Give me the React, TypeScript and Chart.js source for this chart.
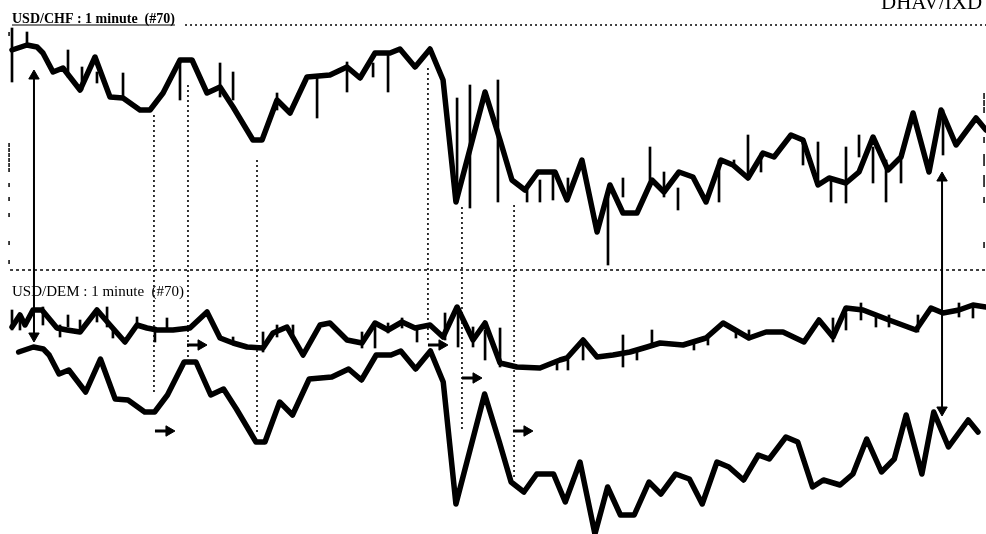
import React, { useEffect, useRef } from "react";
import { Chart, registerables } from "chart.js";

Chart.register(...registerables);

// x: minutes into the 70-minute window; y: price level in points
const CHF_TIME = [0,1.07,1.79,2.21,2.93,3.64,4.86,5.93,7.0,7.93,9.14,9.86,10.79,12.0,12.86,13.93,14.86,15.79,17.21,17.86,18.93,19.86,21.07,22.71,23.93,24.86,25.93,27.0,27.71,28.79,29.86,30.79,31.71,33.79,34.86,35.71,36.64,37.57,38.79,39.64,40.71,41.79,42.71,43.64,44.64,45.71,46.57,47.64,48.64,49.57,50.64,51.5,52.57,53.64,54.43,55.64,56.5,57.57,58.36,59.57,60.5,61.5,62.57,63.5,64.36,65.5,66.36,67.43,68.86,69.57];
const CHF_LEVEL = [484,489,487,481,462,466,444,477,437,436,424,424,441,474,474,441,447,427,394,394,434,421,457,459,467,456,481,481,485,467,485,454,332,442,394,354,344,362,362,334,374,302,349,321,321,354,342,362,357,332,374,369,356,381,377,399,394,349,356,351,362,397,364,377,421,362,424,389,416,404];

const CHF_BAR_TIME = [0,1.07,4.0,5.0,6.07,7.93,12.0,14.86,15.79,18.93,21.79,23.93,25.79,26.86,31.79,32.71,34.71,36.79,37.71,38.64,39.71,42.57,43.64,45.57,46.57,47.57,50.5,51.57,52.57,53.5,56.5,57.57,58.5,59.57,60.5,61.5,62.43,63.5,66.5];
const CHF_BAR_HIGH = [506,502,484,467,462,461,471,471,462,441,457,472,471,481,436,449,454,346,354,362,356,337,356,387,362,346,374,374,399,381,394,392,356,387,399,387,374,377,424];
const CHF_BAR_LOW = [452,489,457,444,451,434,434,437,434,424,416,442,457,442,332,326,332,332,332,334,334,269,337,354,337,324,332,367,357,362,369,349,332,331,377,351,332,351,379];

const DEM_TIME = [0,0.57,0.93,1.5,2.14,3.21,3.93,4.86,6.07,7.0,8.07,8.93,9.64,10.36,11.5,12.71,13.93,14.86,15.79,16.79,17.93,18.64,19.64,20.79,22.0,22.71,23.93,25.0,25.93,26.86,27.86,28.79,29.86,30.79,31.79,32.93,33.79,34.86,36.07,37.71,39.14,39.64,40.79,41.79,42.93,44.14,45.36,46.29,47.93,49.57,50.79,52.64,53.86,55.07,56.57,57.64,58.64,59.57,60.79,62.64,64.57,65.64,66.5,67.64,68.64,69.57];
const DEM_LEVEL = [207,219,209,224,224,206,204,202,224,209,192,209,206,204,204,206,222,196,191,187,186,201,207,179,209,211,194,191,211,204,212,206,209,197,227,194,211,171,167,166,174,176,194,177,179,182,187,191,189,196,211,196,202,202,192,214,197,226,224,214,204,226,221,224,229,227];

const DEM_BAR_TIME = [0,0.57,2.21,3.43,4.0,4.86,6.07,6.79,7.21,8.93,10.21,11.07,15.79,17.93,18.93,20.07,25.0,25.93,26.86,27.86,28.93,30.93,31.86,32.93,33.79,34.86,38.93,39.71,40.79,43.64,44.64,45.71,48.71,49.71,51.71,52.64,58.64,59.57,60.64,61.71,62.64,64.71,67.64,68.64];
const DEM_BAR_HIGH = [224,219,227,209,219,214,224,227,204,217,207,216,197,202,209,209,202,211,211,216,207,221,227,207,204,206,174,174,194,199,184,204,191,197,201,204,216,221,231,219,219,219,231,227];
const DEM_BAR_LOW = [204,204,209,197,207,202,212,207,196,209,192,204,191,182,197,199,186,186,201,206,192,194,187,187,174,167,164,164,174,167,174,189,184,189,196,194,192,204,214,207,207,202,217,216];

// CHF series re-plotted under the DEM panel: shifted down, and on a slightly wider time axis
const COPY_SHIFT = 302;
const COPY_X_MIN = -1.353;
const COPY_X_MAX = 70.15;

// dotted drop lines: time, from level, to level
const DROP_TIME = [10.14, 12.57, 17.5, 29.71, 32.14, 35.86];
const DROP_FROM = [419, 449, 374, 466, 327, 329];
const DROP_TO = [139, 177, 102, 194, 104, 54];

// double-headed vertical arrows
const SPAN_TIME = [1.57, 66.43];
const SPAN_TOP = [464, 362];
const SPAN_BOTTOM = [192, 118];

// small right-pointing lag arrows (tip positions)
const LAG_TIME = [13.93, 11.64, 31.14, 33.57, 37.21];
const LAG_LEVEL = [189, 103, 189, 156, 103];

// horizontal panel rules
const RULE_LEVEL = [509, 264];
const RULE_START = [12.36, -0.14];

// axis tick dots
const LEFT_TICK_LEVEL = [389, 384, 379, 374, 369, 364, 349, 335, 319, 291, 272, 500];
const RIGHT_TICK_LEVEL = [438, 431, 424, 394, 377, 371, 356, 350, 334, 289];

const X_MIN = -0.857;
const X_MAX = 69.57;
const Y_MIN = 0;
const Y_MAX = 534;

const TITLE_CHF = "USD/CHF : 1 minute  (#70)";
const TITLE_DEM = "USD/DEM : 1 minute  (#70)";
const HEADER = "DHAV/IXD";

export default function App() {
  const ref = useRef<HTMLCanvasElement | null>(null);

  useEffect(() => {
    document.body.style.margin = "0";
    const canvas = ref.current;
    if (!canvas) return;

    const chfPts = CHF_TIME.map((t, i) => ({ x: t, y: CHF_LEVEL[i] }));
    const demPts = DEM_TIME.map((t, i) => ({ x: t, y: DEM_LEVEL[i] }));
    const chfBars = CHF_BAR_TIME.map((t, i) => ({ x: t, y: [CHF_BAR_LOW[i], CHF_BAR_HIGH[i]] }));
    const demBars = DEM_BAR_TIME.map((t, i) => ({ x: t, y: [DEM_BAR_LOW[i], DEM_BAR_HIGH[i]] }));

    const drops: any[] = [];
    DROP_TIME.forEach((t, i) => {
      drops.push({ x: t, y: DROP_FROM[i] }, { x: t, y: DROP_TO[i] }, { x: t, y: null });
    });

    const head = 6;
    const pxPerMin = 14;
    const spanLines: any[] = [];
    const upHeads: any[] = [];
    const downHeads: any[] = [];
    SPAN_TIME.forEach((t, i) => {
      spanLines.push({ x: t, y: SPAN_TOP[i] - head }, { x: t, y: SPAN_BOTTOM[i] + head }, { x: t, y: null });
      upHeads.push({ x: t, y: SPAN_TOP[i] - head });
      downHeads.push({ x: t, y: SPAN_BOTTOM[i] + head });
    });

    const lagTails: any[] = [];
    const lagHeads: any[] = [];
    LAG_TIME.forEach((t, i) => {
      lagTails.push({ x: t - 20 / pxPerMin, y: LAG_LEVEL[i] }, { x: t - head / pxPerMin, y: LAG_LEVEL[i] }, { x: t, y: null });
      lagHeads.push({ x: t - head / pxPerMin, y: LAG_LEVEL[i] });
    });

    const rules = RULE_LEVEL.map((lv, i) => [
      { x: RULE_START[i], y: lv },
      { x: X_MAX, y: lv },
    ]);

    const leftTicks = LEFT_TICK_LEVEL.map((lv) => ({ x: -0.21, y: lv }));
    const rightTicks = RIGHT_TICK_LEVEL.map((lv) => ({ x: 69.43, y: lv }));

    const labelPlugin = {
      id: "panelLabels",
      afterDraw(chart: any) {
        const ctx = chart.ctx;
        const xs = chart.scales.x;
        const ys = chart.scales.y;
        ctx.save();
        ctx.fillStyle = "#000";
        ctx.strokeStyle = "#000";
        ctx.textBaseline = "alphabetic";
        const x0 = xs.getPixelForValue(0);
        const r0 = ys.getPixelForValue(RULE_LEVEL[0]);
        ctx.font = "bold 14px 'Liberation Serif'";
        ctx.fillText(TITLE_CHF, x0, r0 - 2);
        const w = ctx.measureText(TITLE_CHF).width;
        ctx.lineWidth = 1.2;
        ctx.beginPath();
        ctx.moveTo(x0, r0);
        ctx.lineTo(x0 + w, r0);
        ctx.stroke();
        const r1 = ys.getPixelForValue(RULE_LEVEL[1]);
        ctx.font = "15px 'Liberation Serif'";
        ctx.fillText(TITLE_DEM, x0, r1 + 26);
        ctx.font = "21px 'Liberation Serif'";
        ctx.textAlign = "left";
        ctx.fillText(HEADER, xs.getPixelForValue(X_MAX) - 105, ys.getPixelForValue(Y_MAX) + 9);
        ctx.restore();
      },
    };

    const lineBase = {
      type: "line" as const,
      borderColor: "#000",
      pointRadius: 0,
      pointHoverRadius: 0,
      tension: 0,
      clip: false as const,
      borderJoinStyle: "round" as const,
      borderCapStyle: "round" as const,
      spanGaps: false,
    };

    const chart = new Chart(canvas, {
      type: "line",
      data: {
        datasets: [
          { ...lineBase, label: "rule top", data: rules[0], borderWidth: 1.3, borderDash: [2, 3], borderCapStyle: "butt" },
          { ...lineBase, label: "rule mid", data: rules[1], borderWidth: 1.3, borderDash: [3, 3], borderCapStyle: "butt" },
          { ...lineBase, label: "drops", data: drops, borderWidth: 1.6, borderDash: [2, 3], borderCapStyle: "butt" },
          {
            type: "bar",
            label: "USD/CHF range",
            data: chfBars as any,
            backgroundColor: "#000",
            barThickness: 2,
            grouped: false,
            borderWidth: 0,
          },
          {
            type: "bar",
            label: "USD/DEM range",
            data: demBars as any,
            backgroundColor: "#000",
            barThickness: 2,
            grouped: false,
            borderWidth: 0,
          },
          { ...lineBase, label: "USD/CHF", data: chfPts, borderWidth: 5.5 },
          { ...lineBase, label: "USD/DEM", data: demPts, borderWidth: 5.5 },
          { ...lineBase, label: "USD/CHF shifted", data: chfPts, borderWidth: 5.5, xAxisID: "xCopy", yAxisID: "yCopy" },
          { ...lineBase, label: "span", data: spanLines, borderWidth: 2, borderCapStyle: "butt" },
          { ...lineBase, label: "lag tails", data: lagTails, borderWidth: 3, borderCapStyle: "butt" },
          {
            type: "scatter",
            label: "up heads",
            data: upHeads,
            pointStyle: "triangle",
            pointRadius: head,
            pointRotation: 0,
            backgroundColor: "#000",
            borderColor: "#000",
            borderWidth: 1,
            clip: false,
          },
          {
            type: "scatter",
            label: "down heads",
            data: downHeads,
            pointStyle: "triangle",
            pointRadius: head,
            pointRotation: 180,
            backgroundColor: "#000",
            borderColor: "#000",
            borderWidth: 1,
            clip: false,
          },
          {
            type: "scatter",
            label: "lag heads",
            data: lagHeads,
            pointStyle: "triangle",
            pointRadius: head,
            pointRotation: 90,
            backgroundColor: "#000",
            borderColor: "#000",
            borderWidth: 1,
            clip: false,
          },
          {
            type: "scatter",
            label: "left ticks",
            data: leftTicks,
            pointStyle: "line",
            pointRadius: 2,
            pointRotation: 90,
            borderColor: "#000",
            borderWidth: 1.5,
            clip: false,
          },
          {
            type: "scatter",
            label: "right ticks",
            data: rightTicks,
            pointStyle: "line",
            pointRadius: 3,
            pointRotation: 90,
            borderColor: "#000",
            borderWidth: 1.5,
            clip: false,
          },
        ] as any,
      },
      options: {
        animation: false,
        responsive: false,
        devicePixelRatio: 1,
        events: [],
        layout: { padding: 0, autoPadding: false },
        plugins: { legend: { display: false }, tooltip: { enabled: false }, title: { display: false } },
        scales: {
          x: { type: "linear", min: X_MIN, max: X_MAX, display: false, offset: false },
          xCopy: { type: "linear", axis: "x", position: "bottom", min: COPY_X_MIN, max: COPY_X_MAX, display: false, offset: false },
          y: { type: "linear", min: Y_MIN, max: Y_MAX, display: false },
          yCopy: { type: "linear", axis: "y", position: "left", min: Y_MIN + COPY_SHIFT, max: Y_MAX + COPY_SHIFT, display: false },
        },
      },
      plugins: [labelPlugin],
    });

    return () => chart.destroy();
  }, []);

  return (
    <div style={{ width: 986, height: 534, background: "#fff" }}>
      <canvas ref={ref} width={986} height={534} style={{ display: "block" }} />
    </div>
  );
}
